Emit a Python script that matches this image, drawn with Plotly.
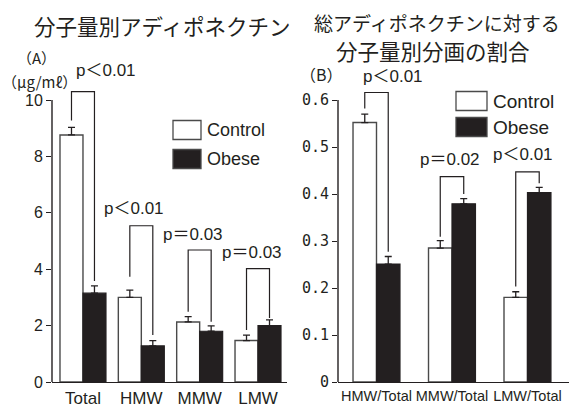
import plotly.graph_objects as go

W, H = 570, 407

# ---- Panel A: adiponectin by molecular-weight fraction (μg/mℓ) ----
cats_a = ["Total", "HMW", "MMW", "LMW"]
control_a = [8.76, 3.0, 2.13, 1.47]
control_a_err = [0.27, 0.26, 0.19, 0.19]
obese_a = [3.15, 1.28, 1.80, 2.00]
obese_a_err = [0.26, 0.19, 0.19, 0.20]
# significance brackets: top, end of control leg, end of obese leg
brk_a_top = [10.3, 5.54, 4.68, 4.02]
brk_a_left = [9.27, 3.73, 2.49, 1.84]
brk_a_right = [3.58, 1.67, 2.14, 2.27]
p_a = ["p＜0.01", "p＜0.01", "p＝0.03", "p＝0.03"]
yticks_a = [0, 2, 4, 6, 8, 10]

# ---- Panel B: fraction of total adiponectin ----
cats_b = ["HMW/Total", "MMW/Total", "LMW/Total"]
control_b = [0.552, 0.285, 0.180]
control_b_err = [0.018, 0.016, 0.012]
obese_b = [0.251, 0.379, 0.403]
obese_b_err = [0.016, 0.011, 0.011]
brk_b_top = [0.616, 0.437, 0.447]
brk_b_left = [0.582, 0.309, 0.203]
brk_b_right = [0.277, 0.400, 0.423]
p_b = ["p＜0.01", "p＝0.02", "p＜0.01"]
yticks_b = [0, 0.1, 0.2, 0.3, 0.4, 0.5, 0.6]
yticklabels_b = ["0", "0.1", "0.2", "0.3", "0.4", "0.5", "0.6"]

INK = "#231f20"
EDGE = "#4a4a4a"
JP = "Noto Sans CJK JP"
SANS = "Liberation Sans, Noto Sans CJK JP"


def px(x, y):
    """pixel position -> paper coordinates"""
    return x / W, 1 - y / H


fig = go.Figure()


def add_panel(xa, ya, n, ctrl, ctrl_err, obs, obs_err, w, top, left, right):
    idx = list(range(n))
    fig.add_trace(go.Bar(
        x=idx, y=ctrl, width=w, offset=-w, xaxis=xa, yaxis=ya,
        marker=dict(color="white", line=dict(color=EDGE, width=1.4)),
        error_y=dict(type="data", array=ctrl_err, arrayminus=[0] * n,
                     symmetric=False, color=INK, thickness=1.3, width=3.5),
        showlegend=False, hoverinfo="skip"))
    fig.add_trace(go.Bar(
        x=idx, y=obs, width=w, offset=0, xaxis=xa, yaxis=ya,
        marker=dict(color=INK, line=dict(color=INK, width=1.2)),
        error_y=dict(type="data", array=obs_err, arrayminus=[0] * n,
                     symmetric=False, color=INK, thickness=1.3, width=3.5),
        showlegend=False, hoverinfo="skip"))
    bx, by = [], []
    for i in idx:
        xl, xr = i - w / 2, i + w / 2
        bx += [xl, xl, xr, xr, None]
        by += [left[i], top[i], top[i], right[i], None]
    fig.add_trace(go.Scatter(
        x=bx, y=by, mode="lines", xaxis=xa, yaxis=ya,
        line=dict(color=INK, width=1.2), showlegend=False, hoverinfo="skip"))


WA = 0.394
WB = 0.311
add_panel("x", "y", 4, control_a, control_a_err, obese_a, obese_a_err, WA,
          brk_a_top, brk_a_left, brk_a_right)
add_panel("x2", "y2", 3, control_b, control_b_err, obese_b, obese_b_err, WB,
          brk_b_top, brk_b_left, brk_b_right)

annotations = []
# p-value labels over the brackets
for i, (t, dx, dy) in enumerate(zip(p_a, [0.39, -0.13, -0.12, -0.11], [21, 17, 16, 16])):
    annotations.append(dict(x=i + dx, y=brk_a_top[i], xref="x", yref="y",
                            text=t, showarrow=False, yshift=dy,
                            xanchor="center", yanchor="middle",
                            font=dict(family=SANS, size=17, color=INK)))
for i, (t, dx, dy) in enumerate(zip(p_b, [0.22, -0.03, -0.06], [16, 17, 17])):
    annotations.append(dict(x=i + dx, y=brk_b_top[i], xref="x2", yref="y2",
                            text=t, showarrow=False, yshift=dy,
                            xanchor="center", yanchor="middle",
                            font=dict(family=SANS, size=17, color=INK)))


def label(x, y, text, size, family=SANS, anchor="center"):
    ax, ay = px(x, y)
    annotations.append(dict(x=ax, y=ay, xref="paper", yref="paper", text=text,
                            showarrow=False, xanchor=anchor, yanchor="middle",
                            font=dict(family=family, size=size, color=INK)))


# headings
label(162, 25, "分子量別アディポネクチン", 21.5, JP)
label(437, 22.5, "総アディポネクチンに対する", 19, JP)
label(433, 50.5, "分子量別分画の割合", 21.5, JP)
label(37, 58, "（A）", 15, JP)
label(39, 81, "（μg/mℓ）", 15, JP)
label(321, 74, "（B）", 16, JP)

shapes = []
# legends
for (x0, x1, yc, yo, size) in [(173, 201, 130, 159, 18), (456, 487, 101, 127, 19)]:
    for yy, fill, name in [(yc, "white", "Control"), (yo, INK, "Obese")]:
        a0 = px(x0, yy - 9.5)
        a1 = px(x1, yy + 9.5)
        shapes.append(dict(type="rect", xref="paper", yref="paper",
                           x0=a0[0], x1=a1[0], y0=a1[1], y1=a0[1],
                           fillcolor=fill, line=dict(color=EDGE, width=1.3)))
        label(x1 + 4, yy, name, size, anchor="left")

# vertical axis lines stop at the top tick
XA0, XA1 = 52 / W, 287 / W
XB0, XB1 = 338 / W, 569 / W
shapes.append(dict(type="line", xref="paper", yref="y", x0=XA0, x1=XA0, y0=0, y1=10,
                   line=dict(color=INK, width=1.4)))
shapes.append(dict(type="line", xref="paper", yref="y2", x0=XB0, x1=XB0, y0=0, y1=0.6,
                   line=dict(color=INK, width=1.4)))

Y0 = 1 - 382 / H
common_x = dict(showgrid=False, zeroline=False, showline=True, linecolor=INK,
                linewidth=1.4, ticks="", fixedrange=True, automargin=False,
                tickangle=0)
common_y = dict(showgrid=False, zeroline=False, showline=False, ticks="outside",
                ticklen=5, tickwidth=1.3, tickcolor=INK, fixedrange=True,
                automargin=False)

fig.update_layout(
    template="none",
    width=W, height=H, autosize=False,
    margin=dict(l=0, r=0, t=0, b=0, pad=0),
    paper_bgcolor="white", plot_bgcolor="white",
    barmode="overlay", showlegend=False,
    xaxis=dict(domain=[XA0, XA1], range=[-0.531, 3.497], anchor="y",
               tickvals=list(range(4)), ticktext=cats_a,
               tickfont=dict(family="Liberation Sans", size=17, color=INK), **common_x),
    yaxis=dict(domain=[Y0, 1 - (382 - 12 * 28.2) / H], range=[0, 12], anchor="x",
               tickvals=yticks_a, ticktext=[str(v) for v in yticks_a],
               tickfont=dict(family="Liberation Sans", size=16, color=INK), **common_y),
    xaxis2=dict(domain=[XB0, XB1], range=[-0.51, 2.55], anchor="y2",
                tickvals=list(range(3)), ticktext=cats_b,
                tickfont=dict(family="Liberation Sans", size=14.5, color=INK), **common_x),
    yaxis2=dict(domain=[Y0, 1 - (382 - 0.7 * 470) / H], range=[0, 0.7], anchor="x2",
                tickvals=yticks_b, ticktext=yticklabels_b,
                tickfont=dict(family="DejaVu Sans Mono", size=15, color=INK), **common_y),
    annotations=annotations,
    shapes=shapes,
)

fig.write_html("out.html")
